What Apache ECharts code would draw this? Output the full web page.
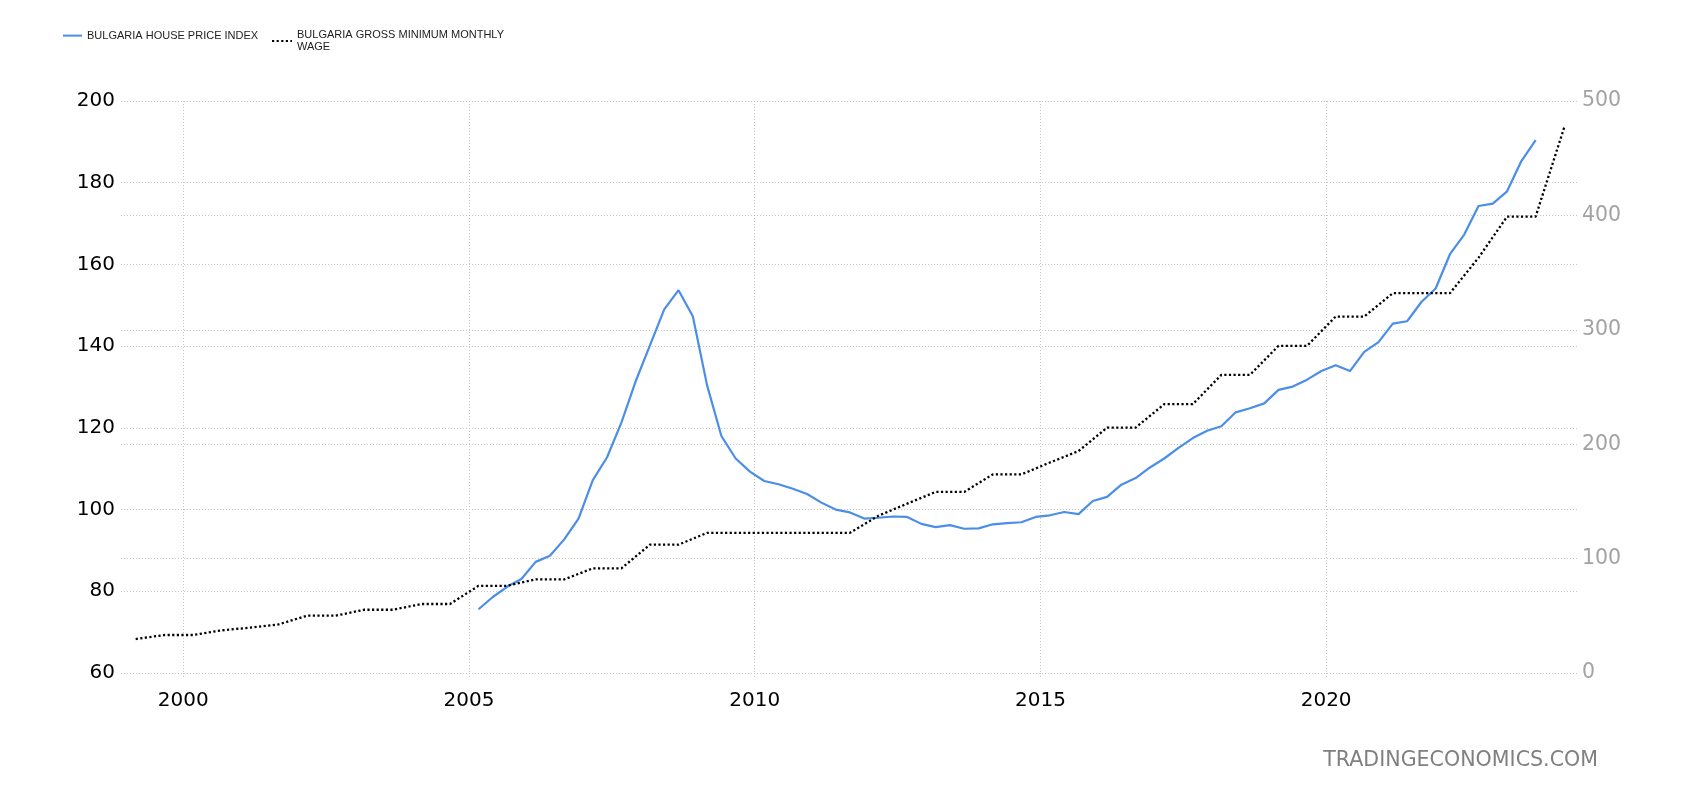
<!DOCTYPE html>
<html><head><meta charset="utf-8">
<script src="https://cdn.jsdelivr.net/npm/echarts@6/dist/echarts.min.js"></script>
<style>html,body{margin:0;padding:0;background:#fff}#c{width:1700px;height:800px}</style>
</head><body><div id="c"></div>
<script>
// ---- data ----
const houseName = 'BULGARIA HOUSE PRICE INDEX';
const wageName = 'BULGARIA GROSS MINIMUM MONTHLY WAGE';

const houseQuarters = [
  '2005Q1','2005Q2','2005Q3','2005Q4','2006Q1','2006Q2','2006Q3','2006Q4',
  '2007Q1','2007Q2','2007Q3','2007Q4','2008Q1','2008Q2','2008Q3','2008Q4',
  '2009Q1','2009Q2','2009Q3','2009Q4','2010Q1','2010Q2','2010Q3','2010Q4',
  '2011Q1','2011Q2','2011Q3','2011Q4','2012Q1','2012Q2','2012Q3','2012Q4',
  '2013Q1','2013Q2','2013Q3','2013Q4','2014Q1','2014Q2','2014Q3','2014Q4',
  '2015Q1','2015Q2','2015Q3','2015Q4','2016Q1','2016Q2','2016Q3','2016Q4',
  '2017Q1','2017Q2','2017Q3','2017Q4','2018Q1','2018Q2','2018Q3','2018Q4',
  '2019Q1','2019Q2','2019Q3','2019Q4','2020Q1','2020Q2','2020Q3','2020Q4',
  '2021Q1','2021Q2','2021Q3','2021Q4','2022Q1','2022Q2','2022Q3','2022Q4',
  '2023Q1','2023Q2','2023Q3'
];
const houseValues = [
  75.6, 78.6, 81.1, 83.0, 87.2, 88.7, 92.7, 97.8,
  107.2, 112.8, 121.3, 131.4, 140.2, 149.0, 153.7, 147.3,
  130.4, 118.0, 112.5, 109.3, 107.0, 106.2, 105.1, 103.8,
  101.7, 100.0, 99.3, 97.8, 98.0, 98.3, 98.2, 96.5,
  95.7, 96.2, 95.3, 95.4, 96.4, 96.7, 96.9, 98.2,
  98.6, 99.4, 98.9, 102.1, 103.1, 106.1, 107.7, 110.3,
  112.5, 115.1, 117.5, 119.3, 120.4, 123.8, 124.8, 126.0,
  129.3, 130.1, 131.8, 133.9, 135.3, 133.9, 138.6, 141.0,
  145.5, 146.1, 150.8, 154.1, 162.5, 167.3, 174.3, 174.9,
  177.9, 185.3, 190.4
];

const wageDates = [
  '1999-03','1999-09','2000-03','2000-09','2001-03','2001-09','2002-03','2002-09',
  '2003-03','2003-09','2004-03','2004-09','2005-03','2005-09','2006-03','2006-09',
  '2007-03','2007-09','2008-03','2008-09','2009-03','2009-09','2010-03','2010-09',
  '2011-03','2011-09','2012-03','2012-09','2013-03','2013-09','2014-03','2014-09',
  '2015-03','2015-09','2016-03','2016-09','2017-03','2017-09','2018-03','2018-09',
  '2019-03','2019-09','2020-03','2020-09','2021-03','2021-09','2022-03','2022-09',
  '2023-03','2023-09','2024-03'
];
const wageValues = [
  29.7, 33.2, 33.2, 37.3, 39.6, 42.5, 50.1, 50.1,
  55.3, 55.3, 60.3, 60.3, 76.2, 76.2, 81.8, 81.8,
  91.5, 91.5, 112.2, 112.2, 122.5, 122.5, 122.5, 122.5,
  122.5, 122.5, 137.5, 148.0, 158.3, 158.3, 173.6, 173.6,
  184.0, 194.0, 214.5, 214.5, 235.0, 235.0, 260.6, 260.6,
  286.0, 286.0, 311.6, 311.6, 332.0, 332.0, 332.0, 363.0,
  399.0, 399.0, 477.0
];

const xTickYears = [2000, 2005, 2010, 2015, 2020];

// ---- helpers: convert period labels to fractional-year positions ----
function quarterPos(q) { const y = +q.slice(0, 4), n = +q.slice(5); return y + (3 * n - 1) / 12; }
function monthPos(d) { const y = +d.slice(0, 4), m = +d.slice(5, 7); return y + (m - 1) / 12; }

const houseData = houseQuarters.map((q, i) => [quarterPos(q), houseValues[i]]);
const wageData = wageDates.map((d, i) => [monthPos(d), wageValues[i]]);

const gridLine = { show: true, lineStyle: { color: '#c6c6c6', type: [1, 2], width: 1 } };
const labelFont = 'DejaVu Sans';

const chart = echarts.init(document.getElementById('c'), null, { renderer: 'canvas' });
chart.setOption({
  animation: false,
  backgroundColor: '#ffffff',
  grid: { left: 121, right: 123, top: 101, bottom: 127, containLabel: false },
  legend: [
    {
      data: [houseName], left: 62, top: 30, padding: 0, itemWidth: 19, itemHeight: 14,
      itemStyle: { opacity: 0 },
      textStyle: { fontFamily: 'Liberation Sans', fontSize: 11, color: '#222' },
      selectedMode: false
    },
    {
      data: [wageName], left: 271, top: 29, padding: 0, itemWidth: 20, itemHeight: 14,
      itemStyle: { opacity: 0 },
      formatter: () => 'BULGARIA GROSS MINIMUM MONTHLY\nWAGE',
      textStyle: { fontFamily: 'Liberation Sans', fontSize: 11, color: '#222', lineHeight: 12 },
      selectedMode: false
    }
  ],
  xAxis: {
    type: 'value', min: 1998.91, max: 2024.39,
    axisLine: { show: false },
    axisTick: { show: true, length: 6, customValues: xTickYears, lineStyle: { color: '#c6c6c6', type: [1, 2] } },
    axisLabel: {
      customValues: xTickYears, color: '#000', fontFamily: labelFont, fontSize: 20, margin: 18,
      formatter: v => String(Math.round(v))
    },
    splitLine: gridLine
  },
  yAxis: [
    {
      type: 'value', min: 60, max: 200, interval: 20, position: 'left',
      axisLine: { show: false }, axisTick: { show: false },
      axisLabel: { color: '#000', fontFamily: labelFont, fontSize: 20, margin: 6 },
      splitLine: gridLine
    },
    {
      type: 'value', min: 0, max: 500, interval: 100, position: 'right',
      axisLine: { show: false }, axisTick: { show: false },
      axisLabel: { color: '#a3a3a3', fontFamily: labelFont, fontSize: 20.5, margin: 5 },
      splitLine: gridLine
    }
  ],
  series: [
    {
      name: houseName, type: 'line', yAxisIndex: 0, data: houseData,
      symbol: 'none', smooth: false,
      lineStyle: { color: '#4a8ee8', width: 2.2 }, itemStyle: { color: '#4a8ee8' }
    },
    {
      name: wageName, type: 'line', yAxisIndex: 1, data: wageData,
      symbol: 'none', smooth: false,
      lineStyle: { color: '#000', width: 2.3, type: [2.2, 2.4] }, itemStyle: { color: '#000' }
    }
  ],
  graphic: [
    {
      type: 'text', right: 102, top: 750,
      style: { text: 'TRADINGECONOMICS.COM', fill: '#808080', font: '20.6px "DejaVu Sans"' }
    }
  ]
});
</script>
</body></html>
